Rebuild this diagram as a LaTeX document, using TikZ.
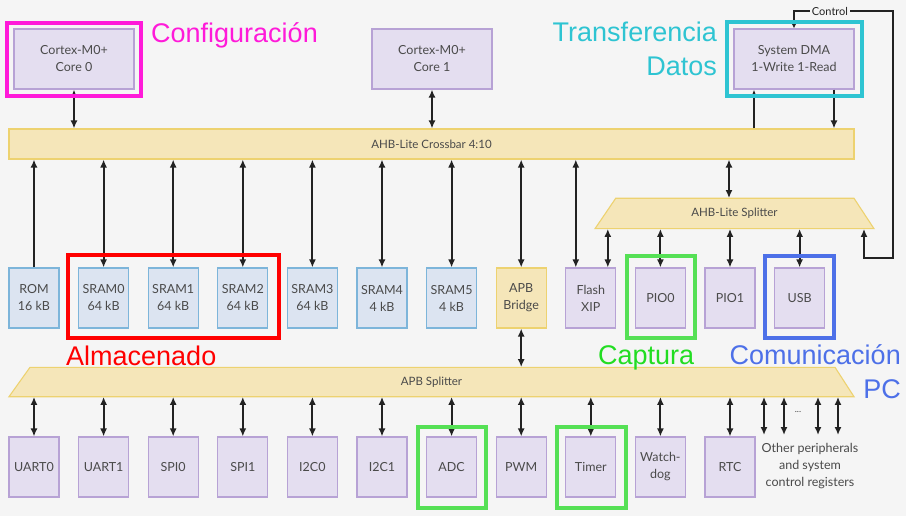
\documentclass[tikz,border=0pt]{standalone}
\usepackage{fontspec}
\setmainfont{Lato}
\newfontfamily\hlfont{Liberation Sans}
\usetikzlibrary{arrows.meta}
\definecolor{bg}{HTML}{F5F5F5}
\definecolor{pfill}{HTML}{E4DEF0}
\definecolor{pdraw}{HTML}{B7A2D5}
\definecolor{mfill}{HTML}{DCE4F1}
\definecolor{mdraw}{HTML}{7DB5DA}
\definecolor{yfill}{HTML}{F5E6B9}
\definecolor{ydraw}{HTML}{EDD270}
\definecolor{txt}{HTML}{4A4A4A}
\definecolor{arrc}{HTML}{222222}
\definecolor{hlmag}{HTML}{FF1AD9}
\definecolor{hlcyan}{HTML}{2EC4D2}
\definecolor{hlred}{HTML}{FF0000}
\definecolor{hlgreen}{HTML}{55E055}
\definecolor{txgreen}{HTML}{22DD22}
\definecolor{hlblue}{HTML}{4D70E8}
\begin{document}
\begin{tikzpicture}[x={(1pt,0pt)},y={(0pt,-1pt)},
  box/.style={draw=pdraw, fill=pfill, line width=1.1pt, text=txt,
    font=\fontsize{12.5}{17}\selectfont, align=center, inner sep=0pt,
    minimum width=50pt, minimum height=60pt},
  mem/.style={box, draw=mdraw, fill=mfill},
  ybox/.style={box, draw=ydraw, fill=yfill},
  bigbox/.style={box, minimum width=120pt},
  bus/.style={draw=ydraw, fill=yfill, line width=1.1pt},
  buslabel/.style={text=txt, font=\fontsize{11.5}{14}\selectfont, inner sep=0pt},
  biarr/.style={{Latex[length=8pt,width=7pt]}-{Latex[length=8pt,width=7pt]}, line width=2.1pt, draw=arrc},
  onearr/.style={-{Latex[length=8pt,width=7pt]}, line width=2.1pt, draw=arrc},
  ctrlarr/.style={{Latex[length=8pt,width=7pt]}-{Latex[length=5pt,width=5pt]}, line width=1.7pt, draw=arrc},
  hl/.style={line width=3.5pt},
  hltext/.style={font=\hlfont\fontsize{27}{27}\selectfont, inner sep=0pt}
]
\fill[bg] (0,0) rectangle (906,516);

% top row
\node[bigbox] (core0) at (74,59) {Cortex-M0+\\Core 0};
\node[bigbox] (core1) at (432,59) {Cortex-M0+\\Core 1};
\node[bigbox] (dma) at (794,59) {System DMA\\1-Write 1-Read};

% crossbar
\node[bus, minimum width=845pt, minimum height=30pt, inner sep=0pt] (xbar) at (431.5,144) {};
\node[buslabel] (xbarl) at (xbar.center) {AHB-Lite Crossbar 4:10};

% AHB splitter
\fill[yfill] (615.7,198.3) -- (854,198.3) -- (874,228.7) -- (595,228.7) -- cycle;
\draw[ydraw, line width=1.1pt] (615.7,198.3) -- (854,198.3) -- (874,228.7) -- (595,228.7) -- cycle;
\node[minimum width=238pt, minimum height=30.4pt, inner sep=0pt] (ahbs) at (734.5,213.5) {};
\node[buslabel] (ahbsl) at (ahbs.center) {AHB-Lite Splitter};

% middle row
\node[mem] (rom) at (34,298) {ROM\\16 kB};
\node[mem] (sram0) at (103.6,298) {SRAM0\\64 kB};
\node[mem] (sram1) at (173.2,298) {SRAM1\\64 kB};
\node[mem] (sram2) at (242.8,298) {SRAM2\\64 kB};
\node[mem] (sram3) at (312.4,298) {SRAM3\\64 kB};
\node[mem] (sram4) at (382,298) {SRAM4\\4 kB};
\node[mem] (sram5) at (451.6,298) {SRAM5\\4 kB};
\node[ybox] (apbbr) at (521.2,298) {APB\\Bridge};
\node[box] (flash) at (590.8,298) {Flash\\XIP};
\node[box] (pio0) at (660.4,298) {PIO0};
\node[box] (pio1) at (730,298) {PIO1};
\node[box] (usb) at (799.6,298) {USB};

% APB splitter
\fill[yfill] (30,367.3) -- (835,367.3) -- (854,396.7) -- (9,396.7) -- cycle;
\draw[ydraw, line width=1.1pt] (30,367.3) -- (835,367.3) -- (854,396.7) -- (9,396.7) -- cycle;
\node[minimum width=805pt, minimum height=29.4pt, inner sep=0pt] (apbs) at (431.5,382) {};
\node[buslabel] (apbsl) at (apbs.center) {APB Splitter};

% bottom row
\node[box] (uart0) at (34,467) {UART0};
\node[box] (uart1) at (103.6,467) {UART1};
\node[box] (spi0) at (173.2,467) {SPI0};
\node[box] (spi1) at (242.8,467) {SPI1};
\node[box] (i2c0) at (312.4,467) {I2C0};
\node[box] (i2c1) at (382,467) {I2C1};
\node[box] (adc) at (451.6,467) {ADC};
\node[box] (pwm) at (521.2,467) {PWM};
\node[box] (timer) at (590.8,467) {Timer};
\node[box] (wdog) at (660.4,467) {Watch-\\dog};
\node[box] (rtc) at (730,467) {RTC};
\node[text=txt, font=\fontsize{12.5}{17}\selectfont, align=center, inner sep=0pt] (other) at (810,466) {Other peripherals\\and system\\control registers};
\node[text=txt, font=\fontsize{9}{9}\selectfont, inner sep=0pt] (dots) at (798,412) {...};
\coordinate (o1) at (764,435);
\coordinate (o2) at (784,435);
\coordinate (o3) at (818,435);
\coordinate (o4) at (838,435);

% arrows top
\draw[biarr] (core0.south) -- (core0.south |- xbar.north);
\draw[biarr] (core1.south) -- (core1.south |- xbar.north);
\draw[onearr] ([xshift=-40pt]dma.south |- xbar.north) -- ([xshift=-40pt]dma.south);
\draw[onearr] ([xshift=40pt]dma.south) -- ([xshift=40pt]dma.south |- xbar.north);

% crossbar to middle row
\draw[onearr] (rom.north) -- (rom.north |- xbar.south);
\foreach \n in {sram0,sram1,sram2,sram3,sram4,sram5,apbbr}
  \draw[biarr] (\n.north) -- (\n.north |- xbar.south);
\draw[biarr] ([xshift=-15pt]flash.north) -- ([xshift=-15pt]flash.north |- xbar.south);
\draw[biarr] ([xshift=-5.5pt]ahbs.north) -- ([xshift=-5.5pt]ahbs.north |- xbar.south);
\draw[biarr] ([xshift=17pt]flash.north) -- ([xshift=17pt]flash.north |- ahbs.south);
\foreach \n in {pio0,pio1,usb}
  \draw[biarr] (\n.north) -- (\n.north |- ahbs.south);

% APB bridge to splitter
\draw[biarr] (apbbr.south) -- (apbbr.south |- apbs.north);

% APB splitter to bottom row
\foreach \n in {uart0,uart1,spi0,spi1,i2c0,i2c1,adc,pwm,timer,wdog,rtc}
  \draw[biarr] (\n.north) -- (\n.north |- apbs.south);
\foreach \n in {o1,o2,o3,o4}
  \draw[biarr] (\n) -- (\n |- apbs.south);

% control loop
\coordinate (c1) at (794,11);
\coordinate (c2) at (893,11);
\coordinate (c3) at (893,258);
\coordinate (c4) at (864,258);
\draw[ctrlarr] (c4 |- ahbs.south) -- (c4) -- (c3) -- (c2) -- (dma.north |- c1) -- (dma.north);
\node[fill=bg, inner sep=2pt, text=arrc, font=\fontsize{11}{11}\selectfont] (ctrl) at (830,11) {Control};

% highlights
\draw[hlmag, hl] (7,23) rectangle (141,96);
\draw[hlcyan, hl] (727,22) rectangle (862,96);
\draw[hlred, hl] (68,255) rectangle (279,338);
\draw[hlgreen, hl] (627,256) rectangle (695,338);
\draw[hlblue, hl] (765,256) rectangle (834,338);
\draw[hlgreen, hl] (418,427) rectangle (486,508);
\draw[hlgreen, hl] (557,427) rectangle (626,508);

% highlight labels
\node[hltext, text=hlmag, anchor=base west] (lconf) at (151,42.5) {Configuración};
\node[hltext, text=hlcyan, anchor=base east] (ltrans) at (717,42) {Transferencia};
\node[hltext, text=hlcyan, anchor=base east] (ldatos) at (717,76) {Datos};
\node[hltext, text=hlred, anchor=base west] (lalm) at (66,365) {Almacenado};
\node[hltext, text=txgreen, anchor=base west] (lcap) at (598,364) {Captura};
\node[hltext, text=hlblue, anchor=base east] (lcom) at (901,364) {Comunicación};
\node[hltext, text=hlblue, anchor=base east] (lpc) at (901,398) {PC};
\end{tikzpicture}
\end{document}
